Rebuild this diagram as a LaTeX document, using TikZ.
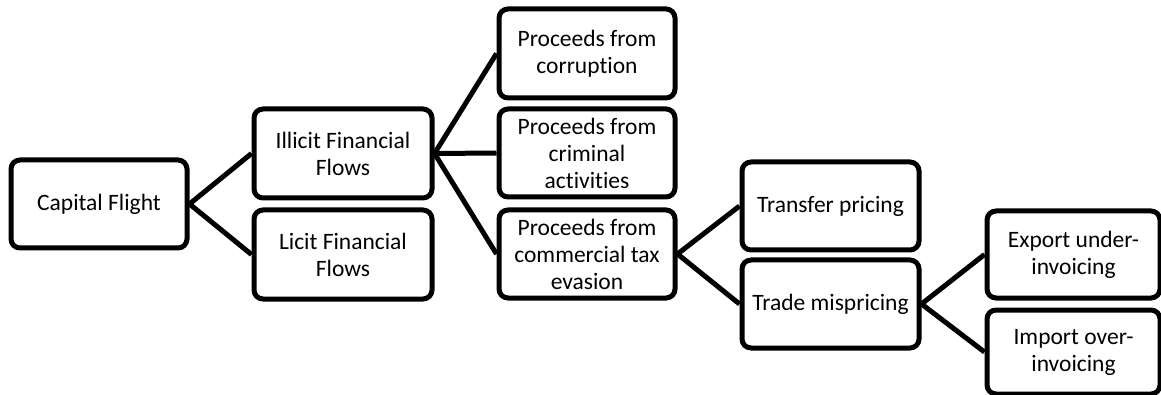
\documentclass[tikz,border=0pt]{standalone}
\usepackage{fontspec}
\setmainfont{Carlito}[Ligatures={NoCommon}]
\begin{document}
\begin{tikzpicture}[x=1pt,y=-1pt,
  box/.style={draw=black, line width=5pt, rounded corners=9pt, fill=white, align=center,
    font=\fontsize{23.5}{27}\selectfont, inner sep=0pt},
  link/.style={line width=5pt}]
\useasboundingbox (0,0) rectangle (1161,395);
\newcommand{\mybox}[6]{\node[box, minimum width=#4-#2, minimum height=#5-#3] (#1) at ({(#2+#4)/2},{(#3+#5)/2}) {#6};}
\mybox{cf}{11}{160}{187}{248}{Capital Flight}
\mybox{ill}{254}{109}{432}{198}{Illicit Financial\\Flows}
\mybox{lic}{254}{210}{432}{299}{Licit Financial\\Flows}
\mybox{cor}{499}{9}{675}{98}{Proceeds from\\corruption}
\mybox{cri}{499}{109}{675}{197}{Proceeds from\\criminal\\activities}
\mybox{com}{499}{210}{675}{298}{Proceeds from\\commercial tax\\evasion}
\mybox{tp}{742}{162}{919}{250}{Transfer pricing}
\mybox{tm}{742}{260}{919}{348}{Trade mispricing}
\mybox{ex}{987}{211}{1160}{298}{Export under-\\invoicing}
\mybox{im}{987}{310}{1160}{394}{Import over-\\invoicing}
\draw[link] (cf.east) -- (ill.west);
\draw[link] (cf.east) -- (lic.west);
\draw[link] (ill.east) -- (cor.west);
\draw[link] (ill.east) -- (cri.west);
\draw[link] (ill.east) -- (com.west);
\draw[link] (com.east) -- (tp.west);
\draw[link] (com.east) -- (tm.west);
\draw[link] (tm.east) -- (ex.west);
\draw[link] (tm.east) -- (im.west);
\end{tikzpicture}
\end{document}
